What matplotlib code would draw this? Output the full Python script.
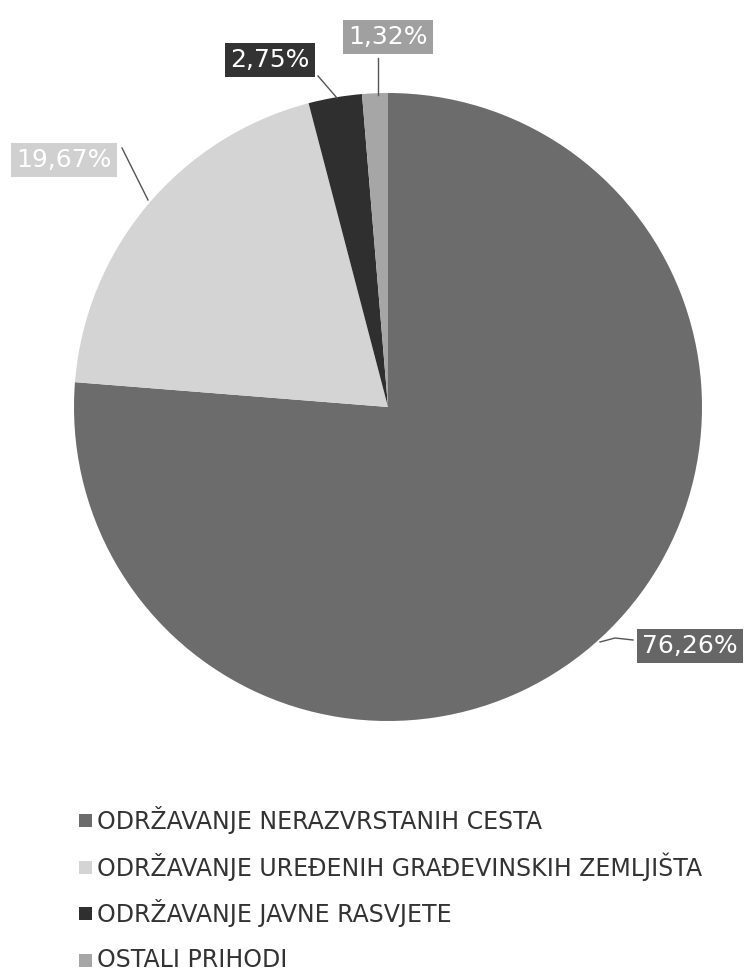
import matplotlib
matplotlib.use("Agg")
import matplotlib.pyplot as plt

categories = ["ODRŽAVANJE NERAZVRSTANIH CESTA",
              "ODRŽAVANJE UREĐENIH GRAĐEVINSKIH ZEMLJIŠTA",
              "ODRŽAVANJE JAVNE RASVJETE",
              "OSTALI PRIHODI"]
values = [76.26, 19.67, 2.75, 1.32]
labels = ["76,26%", "19,67%", "2,75%", "1,32%"]
colors = ["#6c6c6c", "#d4d4d4", "#2f2f2f", "#a6a6a6"]
label_box_colors = ["#666666", "#d0d0d0", "#333333", "#a0a0a0"]

W, H = 747, 975
fig = plt.figure(figsize=(W / 100, H / 100), dpi=100)
fig.patch.set_facecolor("white")

cx, cy, r = 388, 407, 314
ax = fig.add_axes([(cx - r) / W, 1 - (cy + r) / H, 2 * r / W, 2 * r / H])
wedges, _ = ax.pie(values, colors=colors, startangle=90, counterclock=False,
                   wedgeprops=dict(linewidth=0))
ax.set_xlim(-1, 1)
ax.set_ylim(-1, 1)
ax.set_aspect("equal")
ax.axis("off")

def px(x, y):
    # pixel -> data coords for this axes
    return ((x - cx) / r, (cy - y) / r)

# label positions (pixel centres) and leader line endpoints
label_pos = [(690, 646), (64, 160), (270, 60), (388, 37)]
leaders = [[(633, 640), (615, 638), (600, 642)],
           [(122, 148), (148, 200)],
           [(318, 76), (337, 98)],
           [(378, 58), (378, 95)]]

for lab, pos, bc, ld in zip(labels, label_pos, label_box_colors, leaders):
    xs, ys = zip(*[px(*p) for p in ld])
    ax.plot(xs, ys, color="#555555", lw=1, clip_on=False)
    tx, ty = px(*pos)
    ax.text(tx, ty, lab, ha="center", va="center", fontsize=18, color="white",
            bbox=dict(boxstyle="square,pad=0.2", fc=bc, ec="none"),
            clip_on=False)

# legend drawn row by row
lax = fig.add_axes([0, 0, 1, 1])
lax.set_xlim(0, W)
lax.set_ylim(H, 0)
lax.axis("off")
row_y = [820, 867, 913, 960]
for cat, col, y in zip(categories, colors, row_y):
    lax.add_patch(plt.Rectangle((79, y - 6.5), 13, 13, fc=col, ec="none"))
    lax.text(97, y, cat, ha="left", va="center", fontsize=17, color="#333333")

fig.savefig("out.png", dpi=100, facecolor="white")
